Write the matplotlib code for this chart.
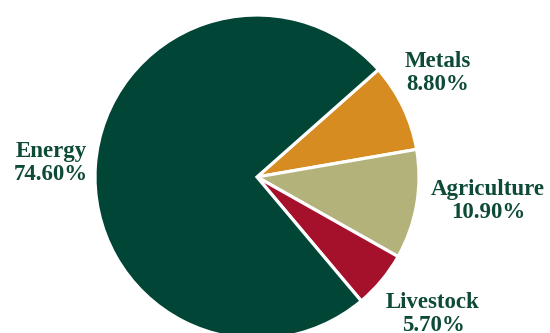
import matplotlib
matplotlib.use("Agg")
import matplotlib.pyplot as plt

# Commodity weights (percent), drawn clockwise starting with Metals
categories = ["Metals", "Agriculture", "Livestock", "Energy"]
weights = [8.80, 10.90, 5.70, 74.60]
colors = ["#d68c20", "#b2b27a", "#a5112a", "#004536"]

# label anchor points in pixel units (x, y from bottom)
label_pos = {
    "Metals": (438, 260),
    "Agriculture": (488, 132),
    "Livestock": (433, 19),
    "Energy": (51, 170),
}

fig = plt.figure(figsize=(5.5, 3.33), dpi=100)
ax = fig.add_axes([0, 0, 1, 1])

ax.pie(weights, colors=colors, startangle=41.5, counterclock=False,
       center=(257, 156), radius=162, frame=True,
       wedgeprops=dict(edgecolor="white", linewidth=2.3))
ax.set_xlim(0, 550)
ax.set_ylim(0, 333)
ax.set_aspect("equal")
ax.axis("off")

for name, w in zip(categories, weights):
    x, y = label_pos[name]
    ax.text(x, y, f"{name}\n{w:.2f}%", ha="center", va="center",
            fontsize=16.5, fontweight="bold", family="Liberation Serif",
            color="#0d4a38", linespacing=1.18)

fig.savefig("out.png", dpi=100)
